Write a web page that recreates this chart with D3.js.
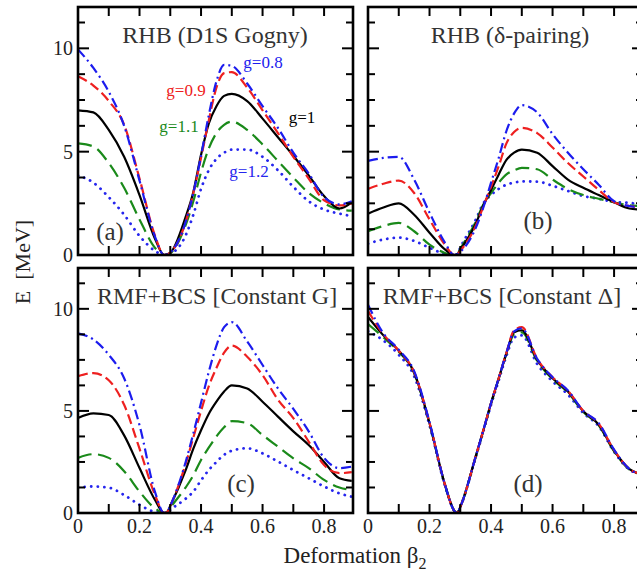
<!DOCTYPE html>
<html>
<head>
<meta charset="utf-8">
<script src="https://cdn.jsdelivr.net/npm/d3@7"></script>
<style>
  html, body { margin: 0; padding: 0; background: #fff; }
  svg { display: block; font-family: "Liberation Serif", "DejaVu Serif", serif; }
</style>
</head>
<body>
<div id="chart"></div>
<script>
// deformation grid shared by all curves
var beta = [0, 0.05, 0.1, 0.15, 0.2, 0.25, 0.28, 0.29, 0.3, 0.35, 0.375, 0.4, 0.425, 0.45, 0.475, 0.5, 0.55, 0.6, 0.65, 0.7, 0.75, 0.8, 0.85, 0.89];

var gValues = ['0.8', '0.9', '1', '1.1', '1.2'];

// (a) RHB (D1S Gogny), one row per g value
var gognyE = [
  [9.95, 9.05, 7.9, 6.25, 3.6, 0.9, 0.0, 0.03, 0.12, 1.6, 3.0, 4.8, 6.75, 8.4, 9.2, 9.15, 8.3, 7.2, 6.15, 4.95, 3.95, 2.8, 2.45, 2.6],
  [8.65, 8.2, 7.45, 6.3, 3.7, 0.95, 0.0, 0.03, 0.12, 1.6, 3.0, 4.7, 6.5, 8.1, 8.8, 8.85, 8.1, 7.0, 5.9, 4.75, 3.7, 2.65, 2.4, 2.5],
  [7.0, 6.9, 6.05, 4.75, 2.9, 0.8, 0.0, 0.03, 0.1, 1.85, 3.05, 4.85, 6.35, 7.2, 7.7, 7.8, 7.45, 6.6, 5.7, 4.8, 3.85, 2.85, 2.25, 2.55],
  [5.4, 5.25, 4.45, 3.25, 1.72, 0.35, 0.0, 0.02, 0.08, 1.45, 2.6, 4.0, 5.15, 5.9, 6.3, 6.45, 6.05, 5.35, 4.55, 3.75, 3.0, 2.5, 2.2, 2.15],
  [3.85, 3.5, 2.8, 1.95, 0.92, 0.2, 0.0, 0.01, 0.05, 0.95, 1.95, 3.2, 4.1, 4.65, 4.95, 5.1, 5.1, 4.75, 4.1, 3.3, 2.6, 2.2, 2.0, 1.88]
];

// (b) RHB (delta-pairing)
var deltaE = [
  [4.55, 4.7, 4.75, 3.65, 2.05, 0.6, 0.0, 0.03, 0.15, 1.3, 2.3, 3.5, 4.7, 6.0, 6.85, 7.25, 6.9, 5.85, 4.95, 4.15, 3.4, 2.6, 2.37, 2.3],
  [3.2, 3.45, 3.6, 3.0, 1.72, 0.5, 0.0, 0.03, 0.2, 1.4, 2.35, 3.3, 4.3, 5.4, 5.95, 6.15, 5.9, 5.2, 4.45, 3.8, 3.15, 2.55, 2.37, 2.3],
  [2.0, 2.3, 2.5, 1.95, 1.08, 0.27, 0.0, 0.03, 0.25, 1.5, 2.4, 3.15, 3.9, 4.6, 4.95, 5.1, 4.95, 4.3, 3.65, 3.25, 2.9, 2.55, 2.25, 2.2],
  [1.15, 1.4, 1.55, 1.15, 0.5, 0.1, 0.0, 0.03, 0.3, 1.6, 2.45, 3.0, 3.5, 3.9, 4.1, 4.22, 4.15, 3.65, 3.2, 2.9, 2.72, 2.55, 2.4, 2.37],
  [0.55, 0.75, 0.84, 0.68, 0.35, 0.05, 0.0, 0.03, 0.35, 1.7, 2.5, 2.9, 3.2, 3.4, 3.5, 3.56, 3.55, 3.35, 3.1, 2.85, 2.72, 2.57, 2.52, 2.45]
];

// (c) RMF+BCS, constant G
var constGE = [
  [8.8, 8.5, 7.75, 6.6, 4.3, 1.05, 0.0, 0.05, 0.35, 2.5, 3.9, 5.4, 6.9, 8.2, 9.1, 9.35, 8.4, 7.25, 6.1, 5.1, 4.0, 2.7, 2.2, 2.27],
  [6.7, 6.85, 6.5, 5.3, 3.15, 0.9, 0.0, 0.05, 0.35, 2.4, 3.7, 5.0, 6.2, 7.1, 7.85, 8.2, 7.65, 6.75, 5.55, 4.65, 3.5, 2.35, 1.95, 2.0],
  [4.65, 4.88, 4.8, 3.8, 2.2, 0.65, 0.0, 0.05, 0.35, 2.1, 3.15, 4.05, 4.85, 5.45, 5.95, 6.25, 6.1, 5.45, 4.72, 4.0, 3.33, 2.5, 1.7, 1.57],
  [2.7, 2.88, 2.7, 2.05, 1.05, 0.23, 0.0, 0.03, 0.25, 1.25, 1.85, 2.6, 3.2, 3.75, 4.2, 4.5, 4.4, 3.82, 3.25, 2.68, 2.2, 1.62, 1.25, 1.13],
  [1.25, 1.3, 1.24, 0.88, 0.4, 0.05, 0.0, 0.02, 0.15, 0.7, 1.05, 1.6, 2.1, 2.5, 2.85, 3.05, 3.17, 2.92, 2.52, 2.1, 1.7, 1.3, 0.96, 0.8]
];

// (d) RMF+BCS, constant Delta
var constDE = [
  [10.2, 8.8, 8.0, 6.95, 4.45, 1.4, 0.12, 0.0, 0.3, 2.76, 4.05, 5.38, 6.6, 7.85, 8.9, 9.05, 7.55, 6.65, 6.0, 5.0, 4.4, 3.1, 2.15, 1.9],
  [9.9, 8.75, 7.95, 6.9, 4.42, 1.4, 0.12, 0.0, 0.3, 2.76, 4.05, 5.38, 6.6, 7.85, 8.95, 9.1, 7.55, 6.65, 5.98, 5.0, 4.38, 3.08, 2.15, 1.9],
  [9.6, 8.7, 7.95, 6.88, 4.4, 1.4, 0.12, 0.0, 0.3, 2.76, 4.05, 5.38, 6.6, 7.83, 8.85, 8.95, 7.5, 6.6, 5.95, 4.98, 4.33, 3.05, 2.15, 1.9],
  [9.25, 8.6, 7.9, 6.85, 4.38, 1.38, 0.12, 0.0, 0.3, 2.74, 4.03, 5.36, 6.58, 7.8, 8.75, 8.85, 7.45, 6.55, 5.9, 4.95, 4.3, 3.02, 2.13, 1.9],
  [8.9, 8.45, 7.75, 6.7, 4.3, 1.35, 0.12, 0.0, 0.3, 2.72, 4.0, 5.3, 6.5, 7.7, 8.6, 8.7, 7.3, 6.45, 5.8, 4.9, 4.25, 3.0, 2.12, 1.9]
];

var xTickLabels = ['0', '0.2', '0.4', '0.6', '0.8'];
var yTickLabels = ['0', '5', '10'];

var width = 637, height = 571;

var svg = d3.select('#chart').append('svg').attr('width', width).attr('height', height);

var seriesStyle = [
  { color: '#1c1cee', dash: '10,4,2,4', w: 2.2, cap: 'butt' },
  { color: '#ee2020', dash: '10,4.5', w: 2.2, cap: 'butt' },
  { color: '#000000', dash: null, w: 2.2, cap: 'butt' },
  { color: '#1a8a1a', dash: '14,6.5', w: 2.2, cap: 'butt' },
  { color: '#2626ee', dash: '0.1,6.5', w: 2.8, cap: 'round' }
];

var panels = [
  { tag: '(a)', title: 'RHB (D1S Gogny)', data: gognyE, left: 78, top: 7, bottom: 255, yLabels: true, xLabels: false,
    titleX: 215, tagX: 110, tagY: 240 },
  { tag: '(b)', title: 'RHB (\u03b4-pairing)', data: deltaE, left: 368, top: 7, bottom: 255, yLabels: false, xLabels: false,
    titleX: 510, tagX: 538, tagY: 229 },
  { tag: '(c)', title: 'RMF+BCS [Constant G]', data: constGE, left: 78, top: 268, bottom: 513, yLabels: true, xLabels: true,
    titleX: 217, tagX: 241, tagY: 492 },
  { tag: '(d)', title: 'RMF+BCS [Constant \u0394]', data: constDE, left: 368, top: 268, bottom: 513, yLabels: false, xLabels: true,
    titleX: 502, tagX: 528, tagY: 492 }
];

var panelW = 275;

panels.forEach(function(p, pi) {
  var x = d3.scaleLinear().domain([0, 0.894]).range([p.left, p.left + panelW]);
  var y = d3.scaleLinear().domain([0, 12]).range([p.bottom, p.top]);

  var clipId = 'clip' + pi;
  svg.append('clipPath').attr('id', clipId)
    .append('rect')
    .attr('x', p.left).attr('y', p.top)
    .attr('width', panelW).attr('height', p.bottom - p.top);

  var line = d3.line()
    .x(function(d) { return x(d[0]); })
    .y(function(d) { return y(d[1]); })
    .curve(d3.curveMonotoneX);

  var g = svg.append('g').attr('clip-path', 'url(#' + clipId + ')');
  // draw from g=1.2 up to g=0.8 so the dash-dot sits on top
  for (var s = p.data.length - 1; s >= 0; s--) {
    var st = seriesStyle[s];
    var pts = beta.map(function(b, i) { return [b, p.data[s][i]]; });
    g.append('path')
      .attr('d', line(pts))
      .attr('fill', 'none')
      .attr('stroke', st.color)
      .attr('stroke-width', st.w)
      .attr('stroke-linecap', st.cap)
      .attr('stroke-dasharray', st.dash);
  }

  // ticks, pointing inward on every side
  var ticks = svg.append('g').attr('stroke', '#000').attr('stroke-width', 2);
  d3.range(1, 9).forEach(function(i) {
    var xx = x(i / 10);
    ticks.append('line').attr('x1', xx).attr('x2', xx).attr('y1', p.bottom).attr('y2', p.bottom - 9);
    ticks.append('line').attr('x1', xx).attr('x2', xx).attr('y1', p.top).attr('y2', p.top + 9);
  });
  d3.range(1, 10).forEach(function(i) {
    var v = i * 1.25;
    var yy = y(v);
    var len = (v % 5 === 0) ? 11 : 7;
    ticks.append('line').attr('x1', p.left).attr('x2', p.left + len).attr('y1', yy).attr('y2', yy);
    ticks.append('line').attr('x1', p.left + panelW).attr('x2', p.left + panelW - len).attr('y1', yy).attr('y2', yy);
  });

  svg.append('rect')
    .attr('x', p.left).attr('y', p.top)
    .attr('width', panelW).attr('height', p.bottom - p.top)
    .attr('fill', 'none').attr('stroke', '#000').attr('stroke-width', 2.6);

  if (p.yLabels) {
    yTickLabels.forEach(function(t) {
      svg.append('text')
        .attr('x', p.left - 5).attr('y', y(+t) + 7)
        .attr('text-anchor', 'end')
        .attr('font-size', 20).attr('fill', '#222')
        .text(t);
    });
  }
  if (p.xLabels) {
    xTickLabels.forEach(function(t) {
      svg.append('text')
        .attr('x', x(+t)).attr('y', p.bottom + 20)
        .attr('text-anchor', 'middle')
        .attr('font-size', 20).attr('fill', '#222')
        .text(t);
    });
  }

  svg.append('text')
    .attr('x', p.titleX).attr('y', p.top + 36)
    .attr('text-anchor', 'middle')
    .attr('font-size', 24).attr('fill', '#333')
    .text(p.title);

  svg.append('text')
    .attr('x', p.tagX).attr('y', p.tagY)
    .attr('text-anchor', 'middle')
    .attr('font-size', 25).attr('fill', '#333')
    .text(p.tag);
});

// g labels in panel (a)
var gLabelPos = [[263, 68], [186, 96], [302, 123], [179, 132], [249, 177]];
gValues.forEach(function(v, i) {
  svg.append('text')
    .attr('x', gLabelPos[i][0]).attr('y', gLabelPos[i][1])
    .attr('text-anchor', 'middle')
    .attr('font-size', 17)
    .attr('fill', seriesStyle[i].color)
    .text('g=' + v);
});

// axis titles
svg.append('text')
  .attr('transform', 'translate(30,262) rotate(-90)')
  .attr('text-anchor', 'middle')
  .attr('font-size', 22).attr('fill', '#222')
  .attr('xml:space', 'preserve')
  .text('E  [MeV]');

var xt = svg.append('text')
  .attr('x', 355).attr('y', 563)
  .attr('text-anchor', 'middle')
  .attr('font-size', 23).attr('fill', '#222');
xt.append('tspan').text('Deformation \u03b2');
xt.append('tspan').attr('dy', 6).attr('font-size', 16).text('2');
</script>
</body>
</html>
